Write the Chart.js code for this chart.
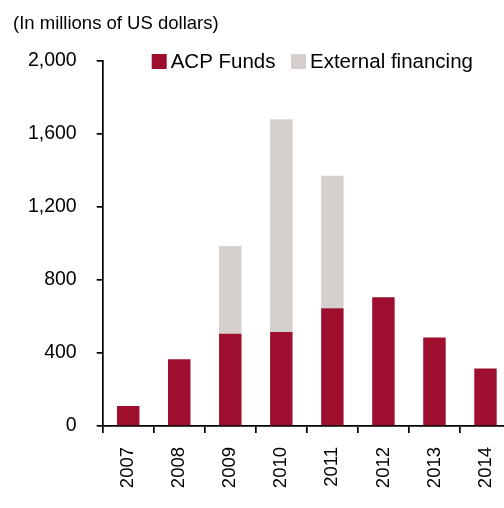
<!DOCTYPE html>
<html>
<head>
<meta charset="utf-8">
<script src="https://cdn.jsdelivr.net/npm/chart.js@4.4.1/dist/chart.umd.min.js"></script>
<style>
  html, body { margin: 0; padding: 0; background: #fff; width: 504px; height: 508px; overflow: hidden; }
  #wrap { width: 511px; height: 508px; }
  canvas { display: block; }
</style>
</head>
<body>
<div id="wrap"><canvas id="chart" width="511" height="508"></canvas></div>
<script>
// Financing by year, in millions of US dollars
const years = ['2007', '2008', '2009', '2010', '2011', '2012', '2013', '2014'];
const acpFunds = [110, 365, 505, 515, 645, 705, 485, 315];
const externalFinancing = [null, null, 480, 1165, 725, null, null, null];
const yTickValues = [0, 400, 800, 1200, 1600, 2000];

const FONT = '"Liberation Sans", Arial, Helvetica, sans-serif';
const RED = '#9E0F2F';
const GREY = '#D5D0CE';

// Legend drawn inside the plot area, at the top
const insideLegend = {
  id: 'insideLegend',
  afterDraw(chart, args, opts) {
    const ctx = chart.ctx;
    ctx.save();
    ctx.font = opts.size + 'px ' + FONT;
    ctx.textBaseline = 'middle';
    ctx.textAlign = 'left';
    chart.data.datasets.forEach((ds, i) => {
      const x = opts.x[i];
      ctx.fillStyle = ds.backgroundColor;
      ctx.fillRect(x, opts.y, opts.box, opts.box);
      ctx.fillStyle = '#000';
      ctx.fillText(ds.label, x + opts.box + opts.gap, opts.y + opts.box / 2 + 1);
    });
    ctx.restore();
  }
};

new Chart(document.getElementById('chart'), {
  type: 'bar',
  data: {
    labels: years,
    datasets: [
      { label: 'ACP Funds', data: acpFunds, backgroundColor: RED, borderWidth: 0 },
      { label: 'External financing', data: externalFinancing, backgroundColor: GREY, borderWidth: 0 }
    ]
  },
  options: {
    responsive: false,
    animation: false,
    devicePixelRatio: 1,
    datasets: { bar: { barPercentage: 0.44, categoryPercentage: 1.0 } },
    layout: { padding: { left: 13, right: 0, top: 0, bottom: 0 } },
    plugins: {
      legend: { display: false },
      tooltip: { enabled: false },
      title: {
        display: true,
        text: '(In millions of US dollars)',
        align: 'start',
        color: '#000',
        font: { family: FONT, size: 18.5, weight: 'normal' },
        padding: { top: 12.4, bottom: 26.1 }
      },
      insideLegend: { x: [151.7, 291], y: 54, box: 15, gap: 4, size: 20.5 }
    },
    scales: {
      x: {
        stacked: true,
        grid: { offset: true, drawOnChartArea: false, drawTicks: true, tickLength: 7, color: '#000', lineWidth: 1.7 },
        border: { display: true, color: '#000', width: 1.7 },
        ticks: { autoSkip: false, minRotation: 90, maxRotation: 90, padding: 14, color: '#000', font: { family: FONT, size: 18.5 } },
        afterFit(s) { s.height = 82; s.paddingLeft = 0; s.paddingRight = 0; }
      },
      y: {
        stacked: true,
        min: 0,
        max: 2000,
        afterBuildTicks(s) { s.ticks = yTickValues.map(v => ({ value: v })); },
        grid: { drawOnChartArea: false, drawTicks: true, tickLength: 6, color: '#000', lineWidth: 1.7 },
        border: { display: true, color: '#000', width: 1.7 },
        ticks: {
          padding: 20,
          color: '#000',
          font: { family: FONT, size: 19.5 },
          callback: v => Number(v).toLocaleString('en-US')
        },
        afterFit(s) { s.width = 89.7; s.paddingTop = 0; s.paddingBottom = 0; }
      }
    }
  },
  plugins: [insideLegend]
});
</script>
</body>
</html>
